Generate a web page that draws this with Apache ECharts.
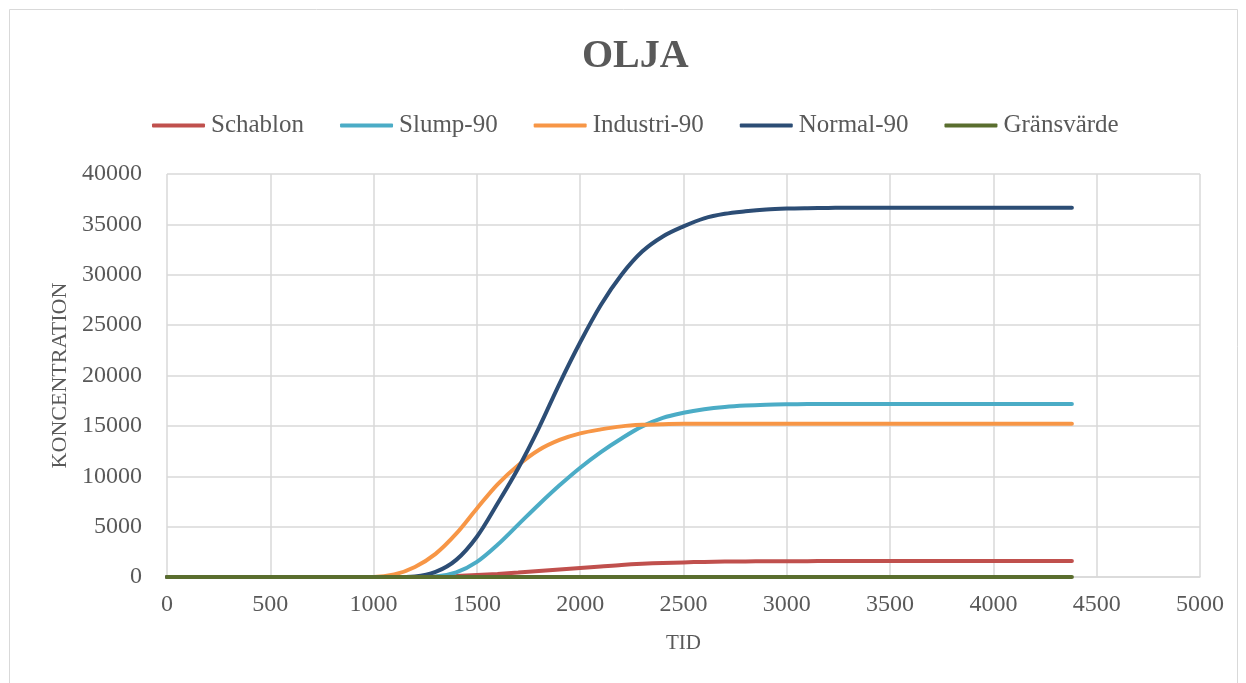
<!DOCTYPE html>
<html>
<head>
<meta charset="utf-8">
<script src="https://cdn.jsdelivr.net/npm/echarts@6/dist/echarts.min.js"></script>
<style>
html,body{margin:0;padding:0;background:#fff;}
#chart{width:1246px;height:683px;}
</style>
</head>
<body>
<div id="chart"></div>
<script>
const seriesNames = ['Schablon', 'Slump-90', 'Industri-90', 'Normal-90', 'Gränsvärde'];
const xValues = [0,100,200,300,400,500,600,700,800,900,1000,1100,1200,1300,1400,1500,1600,1700,1800,1900,2000,2100,2200,2300,2400,2500,2600,2700,2800,2900,3000,3100,3200,3300,3400,3500,3600,3700,3800,3900,4000,4100,4200,4300,4380];
const schablon = [0,0,0,0,0,0,0,0,0,0,0,0,0,30,100,200,310,450,600,750,900,1050,1200,1310,1390,1450,1500,1530,1550,1565,1570,1575,1578,1580,1580,1580,1580,1580,1580,1580,1580,1580,1580,1580,1580];
const slump90 = [0,0,0,0,0,0,0,0,0,0,0,0,0,50,450,1500,3200,5200,7200,9100,10850,12400,13750,14950,15800,16300,16650,16880,17020,17100,17140,17160,17170,17170,17170,17170,17170,17170,17170,17170,17170,17170,17170,17170,17170];
const industri90 = [0,0,0,0,0,0,0,0,0,0,0,250,1000,2300,4300,6800,9200,11100,12600,13600,14250,14650,14950,15100,15170,15200,15200,15200,15200,15200,15200,15200,15200,15200,15200,15200,15200,15200,15200,15200,15200,15200,15200,15200,15200];
const normal90 = [0,0,0,0,0,0,0,0,0,0,0,0,60,500,1700,4000,7300,10800,14800,19200,23300,27000,30000,32300,33800,34800,35600,36050,36300,36480,36570,36610,36630,36650,36650,36650,36650,36650,36650,36650,36650,36650,36650,36650,36650];
const gransvarde = [0,0,0,0,0,0,0,0,0,0,0,0,0,0,0,0,0,0,0,0,0,0,0,0,0,0,0,0,0,0,0,0,0,0,0,0,0,0,0,0,0,0,0,0,0];
const colors = ['#C0504D', '#4BACC6', '#F79646', '#2C4D75', '#5A6E2E'];

const allValues = [schablon, slump90, industri90, normal90, gransvarde];
const font = 'Liberation Serif';
const textColor = '#595959';

const chart = echarts.init(document.getElementById('chart'), null, {renderer: 'canvas'});
chart.setOption({
  animation: false,
  backgroundColor: '#fff',
  graphic: [{
    type: 'rect',
    shape: {x: 9.5, y: 9.5, width: 1228, height: 700},
    style: {fill: 'none', stroke: '#d9d9d9', lineWidth: 1},
    silent: true
  }],
  title: {
    text: 'OLJA',
    left: 577,
    top: 32,
    textStyle: {fontFamily: font, fontWeight: 'bold', fontSize: 40, color: textColor}
  },
  legend: {
    left: 147,
    top: 108,
    itemWidth: 53,
    itemHeight: 4,
    itemGap: 36,
    icon: 'roundRect',
    textStyle: {fontFamily: font, fontSize: 25, color: textColor, padding: [0,0,0,1]},
    data: seriesNames
  },
  grid: {left: 167, right: 46, top: 174, bottom: 106, containLabel: false},
  xAxis: {
    type: 'value',
    min: 0, max: 5000, interval: 500,
    name: 'TID',
    nameLocation: 'middle',
    nameGap: 56,
    nameTextStyle: {fontFamily: font, fontSize: 21, color: textColor},
    axisLine: {show: true, lineStyle: {color: '#d9d9d9', width: 1.5}},
    axisTick: {show: false},
    splitLine: {show: true, lineStyle: {color: '#d9d9d9', width: 1.5}},
    axisLabel: {fontFamily: font, fontSize: 24, color: textColor, margin: 16, formatter: v => String(v)}
  },
  yAxis: {
    type: 'value',
    min: 0, max: 40000, interval: 5000,
    name: 'KONCENTRATION',
    nameLocation: 'middle',
    nameGap: 95,
    nameTextStyle: {fontFamily: font, fontSize: 22, color: textColor},
    axisLine: {show: false},
    axisTick: {show: false},
    splitLine: {show: true, lineStyle: {color: '#d9d9d9', width: 1.5}},
    axisLabel: {fontFamily: font, fontSize: 24, color: textColor, margin: 25, formatter: v => String(v)}
  },
  series: seriesNames.map((name, i) => ({
    name: name,
    type: 'line',
    data: xValues.map((x, j) => [x, allValues[i][j]]),
    showSymbol: false,
    smooth: 0.35,
    lineStyle: {width: 4, color: colors[i], cap: 'round'},
    itemStyle: {color: colors[i]},
    z: 2 + i
  }))
});
</script>
</body>
</html>
